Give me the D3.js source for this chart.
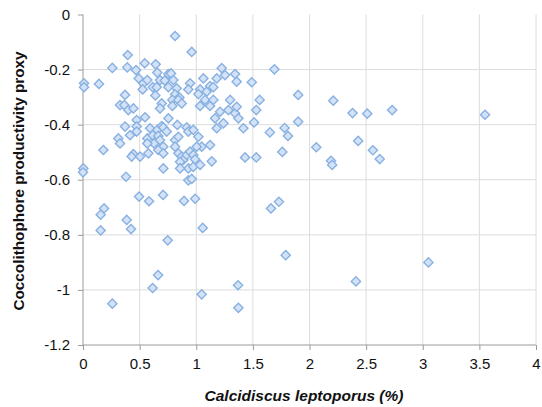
<!DOCTYPE html>
<html>
<head>
<meta charset="utf-8">
<script src="https://cdn.jsdelivr.net/npm/d3@7/dist/d3.min.js"></script>
<style>
html,body{margin:0;padding:0;background:#fff;}
svg{display:block;}
text{font-family:Arial,"Liberation Sans",sans-serif;}
</style>
</head>
<body>
<svg id="chart" width="542" height="407"></svg>
<script>
// Calcidiscus leptoporus (%)
const xValues = [
0.009,0.009,0.141,0.259,0.391,0.395,0.468,0.492,0.545,0.642,0.813,0.960,0.533,0.568,0.527,0.616,0.656,0.680,0.651,0.722,0.754,0.777,0.754,0.798,0.827,0.813,0.851,0.945,0.930,1.034,1.063,1.019,1.093,1.122,1.151,1.181,1.225,1.254,1.343,1.357,
0.371,0.327,0.365,0.400,0.445,0.639,0.695,0.680,0.789,0.789,0.842,0.872,1.034,1.078,1.122,1.151,1.166,1.210,1.284,1.299,1.343,1.357,1.372,
0.548,0.474,0.754,0.833,0.371,0.474,0.474,0.312,0.327,0.415,0.592,0.656,0.568,0.616,0.665,0.695,0.709,0.739,0.627,0.568,0.680,0.709,0.813,0.842,0.916,0.930,0.974,1.019,1.048,1.122,1.181,1.240,1.416,
0.180,0.445,0.430,0.504,0.577,0.665,0.709,0.842,0.872,0.886,0.916,0.945,0.974,0.989,1.004,0.930,0.974,1.034,0.857,0.857,1.137,1.431,0.709,0.813,0.003,
0.000,0.380,0.495,0.583,0.707,0.892,0.930,0.960,0.990,0.186,0.156,0.386,0.424,0.156,1.057,0.748,0.663,0.615,1.369,1.048,1.372,0.259,
1.69,1.49,1.90,1.56,2.21,1.53,2.38,2.51,2.73,3.55,1.51,1.90,1.65,1.78,1.81,2.06,2.43,2.56,2.62,1.53,1.76,2.19,2.20,1.73,1.66,1.79,3.05,2.41
];
// Coccolithophore productivity proxy
const yValues = [
-0.250,-0.264,-0.252,-0.194,-0.192,-0.147,-0.202,-0.232,-0.177,-0.181,-0.078,-0.136,-0.250,-0.238,-0.272,-0.264,-0.211,-0.238,-0.264,-0.240,-0.216,-0.214,-0.264,-0.238,-0.268,-0.290,-0.301,-0.250,-0.272,-0.272,-0.232,-0.289,-0.280,-0.260,-0.264,-0.232,-0.195,-0.220,-0.216,-0.244,
-0.292,-0.329,-0.329,-0.347,-0.341,-0.294,-0.323,-0.341,-0.310,-0.332,-0.310,-0.323,-0.332,-0.310,-0.332,-0.310,-0.377,-0.353,-0.347,-0.310,-0.359,-0.335,-0.377,
-0.373,-0.383,-0.377,-0.401,-0.407,-0.407,-0.425,-0.450,-0.468,-0.438,-0.413,-0.419,-0.450,-0.438,-0.441,-0.405,-0.410,-0.425,-0.468,-0.468,-0.456,-0.480,-0.456,-0.444,-0.410,-0.425,-0.419,-0.444,-0.480,-0.474,-0.413,-0.395,-0.413,
-0.492,-0.507,-0.516,-0.516,-0.504,-0.492,-0.504,-0.504,-0.516,-0.528,-0.510,-0.498,-0.510,-0.526,-0.480,-0.559,-0.553,-0.546,-0.535,-0.559,-0.533,-0.519,-0.559,-0.480,-0.559,
-0.573,-0.589,-0.661,-0.678,-0.655,-0.677,-0.602,-0.597,-0.669,-0.704,-0.727,-0.746,-0.779,-0.784,-0.775,-0.820,-0.946,-0.993,-0.983,-1.016,-1.065,-1.050,
-0.199,-0.246,-0.292,-0.310,-0.313,-0.347,-0.358,-0.360,-0.347,-0.364,-0.392,-0.389,-0.428,-0.412,-0.441,-0.482,-0.459,-0.493,-0.525,-0.519,-0.499,-0.531,-0.546,-0.680,-0.704,-0.874,-0.900,-0.969
];
const xTicks = [0, 0.5, 1, 1.5, 2, 2.5, 3, 3.5, 4];
const yTicks = [0, -0.2, -0.4, -0.6, -0.8, -1, -1.2];
const xTitle = "Calcidiscus leptoporus (%)";
const yTitle = "Coccolithophore productivity proxy";

const points = xValues.map((x, i) => ({x: x, y: yValues[i]}));

const svg = d3.select("#chart");
const x = d3.scaleLinear().domain([0, 4]).range([83, 536]);
const y = d3.scaleLinear().domain([-1.2, 0]).range([345, 14.5]);

const gridColor = "#dcdcdc";
const axisColor = "#9b9b9b";

// gridlines
svg.append("g").selectAll("line").data(xTicks.filter(d => d !== 0)).join("line")
  .attr("x1", d => x(d)).attr("x2", d => x(d))
  .attr("y1", y(0)).attr("y2", y(-1.2))
  .attr("stroke", gridColor).attr("stroke-width", 1);
svg.append("g").selectAll("line").data(yTicks.filter(d => d !== -1.2 && d !== 0)).join("line")
  .attr("x1", x(0)).attr("x2", x(4))
  .attr("y1", d => y(d)).attr("y2", d => y(d))
  .attr("stroke", gridColor).attr("stroke-width", 1);

// axes
const fmt = d => String(d);
const xAxis = svg.append("g").attr("transform", `translate(0,${y(-1.2)})`)
  .call(d3.axisBottom(x).tickValues(xTicks).tickFormat(fmt).tickSize(5).tickPadding(5));
const yAxis = svg.append("g").attr("transform", `translate(${x(0)},0)`)
  .call(d3.axisLeft(y).tickValues(yTicks).tickFormat(fmt).tickSize(5).tickPadding(8));
[xAxis, yAxis].forEach(g => {
  g.select(".domain").attr("stroke", axisColor);
  g.selectAll(".tick line").attr("stroke", axisColor);
  g.selectAll(".tick text").attr("fill", "#111").attr("font-size", 15)
    .attr("font-family", "Arial, 'Liberation Sans', sans-serif");
});
xAxis.select(".domain").attr("d", `M${x(0)},0H${x(4)}`);
yAxis.select(".domain").attr("d", `M0,${y(0)}V${y(-1.2)}`);
xAxis.selectAll(".tick text").attr("dy", "0.9em");

// markers (rotated squares)
const h = 4.6;
const diamond = `M0,${-h}L${h},0L0,${h}L${-h},0Z`;
svg.append("g").selectAll("path").data(points).join("path")
  .attr("d", diamond)
  .attr("transform", d => `translate(${x(d.x)},${y(d.y)})`)
  .attr("fill", "#d3e2f6")
  .attr("stroke", "#88b1e2")
  .attr("stroke-width", 1.4);

// titles
svg.append("text")
  .attr("x", 304).attr("y", 401)
  .attr("text-anchor", "middle")
  .attr("font-size", 15.5).attr("font-weight", "bold").attr("font-style", "italic")
  .attr("fill", "#111")
  .text(xTitle);
svg.append("text")
  .attr("transform", "translate(24,181) rotate(-90)")
  .attr("text-anchor", "middle")
  .attr("font-size", 15.3).attr("font-weight", "bold")
  .attr("fill", "#111")
  .text(yTitle);
</script>
</body>
</html>
